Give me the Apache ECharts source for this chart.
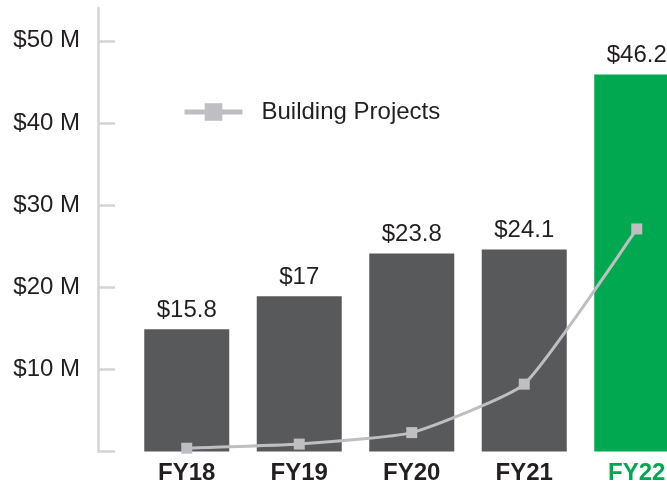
<!DOCTYPE html>
<html>
<head>
<meta charset="utf-8">
<script src="https://cdn.jsdelivr.net/npm/echarts@6/dist/echarts.min.js"></script>
<style>
html, body { margin:0; padding:0; background:#fff; }
#container { width:667px; height:489px; }
</style>
</head>
<body>
<div id="container"></div>
<script type="text/javascript">
	// data
	var years = ['FY18', 'FY19', 'FY20', 'FY21', 'FY22'];
	var funding = [14.9, 18.9, 24.1, 24.6, 45.9];          // bar heights, $ M
	var fundingLabels = ['$15.8', '$17', '$23.8', '$24.1', '$46.2'];
	var buildingProjects = [0.4, 0.9, 2.3, 8.2, 27.1];
	var yTicks = [0, 10, 20, 30, 40, 50];
	var yLabels = [10, 20, 30, 40, 50];

	var font = 'Liberation Sans, Arial, Helvetica, sans-serif';
	var green = '#00a94f';
	var grey = '#58595b';

	var myChart = echarts.init(document.getElementById('container'));
	var option = {
		animation: false,
		textStyle: { fontFamily: font },
		// plot runs past the right edge, last bar is cut off
		grid: { left: 130.5, width: 562.5, top: 8, bottom: 37.5, outerBoundsMode: 'none' },
		legend: {
			data: ['Building Projects'],
			left: 182,
			top: 100,
			padding: 0,
			itemWidth: 58,
			itemHeight: 22,
			lineStyle: { width: 5 },
			textStyle: { fontSize: 24, color: '#231f20', lineHeight: 24, padding: [0, 0, 0, 14] }
		},
		xAxis: {
			type: 'category',
			data: years,
			axisLine: { show: false },
			axisTick: { show: false },
			axisLabel: {
				margin: 10,
				fontSize: 24,
				fontWeight: 'bold',
				color: function (v, i) { return i === years.length - 1 ? green : '#231f20'; }
			}
		},
		yAxis: {
			type: 'value',
			min: 0,
			max: 54,
			offset: 32.5,
			splitLine: { show: false },
			axisLine: { show: true, lineStyle: { color: '#d4d4d6', width: 2.5 } },
			axisTick: { show: true, inside: true, length: 17, customValues: yTicks, lineStyle: { color: '#d4d4d6', width: 2.5 } },
			axisLabel: {
				margin: 18,
				fontSize: 24,
				color: '#231f20',
				customValues: yLabels,
				formatter: function (v) { return '$' + v + ' M'; }
			}
		},
		series: [
			{
				name: 'Funding',
				type: 'bar',
				barWidth: 85,
				data: funding.map(function (v, i) {
					return { value: v, itemStyle: { color: i === funding.length - 1 ? green : grey } };
				}),
				label: {
					show: true,
					position: 'top',
					distance: 7,
					fontSize: 24,
					color: '#231f20',
					formatter: function (p) { return fundingLabels[p.dataIndex]; }
				}
			},
			{
				name: 'Building Projects',
				type: 'line',
				smooth: 0.15,
				symbol: 'rect',
				symbolSize: 11,
				data: buildingProjects,
				itemStyle: { color: '#bfbfc3' },
				lineStyle: { color: '#bfbfc3', width: 3 },
				z: 3
			}
		]
	};
	myChart.setOption(option);
</script>
</body>
</html>
